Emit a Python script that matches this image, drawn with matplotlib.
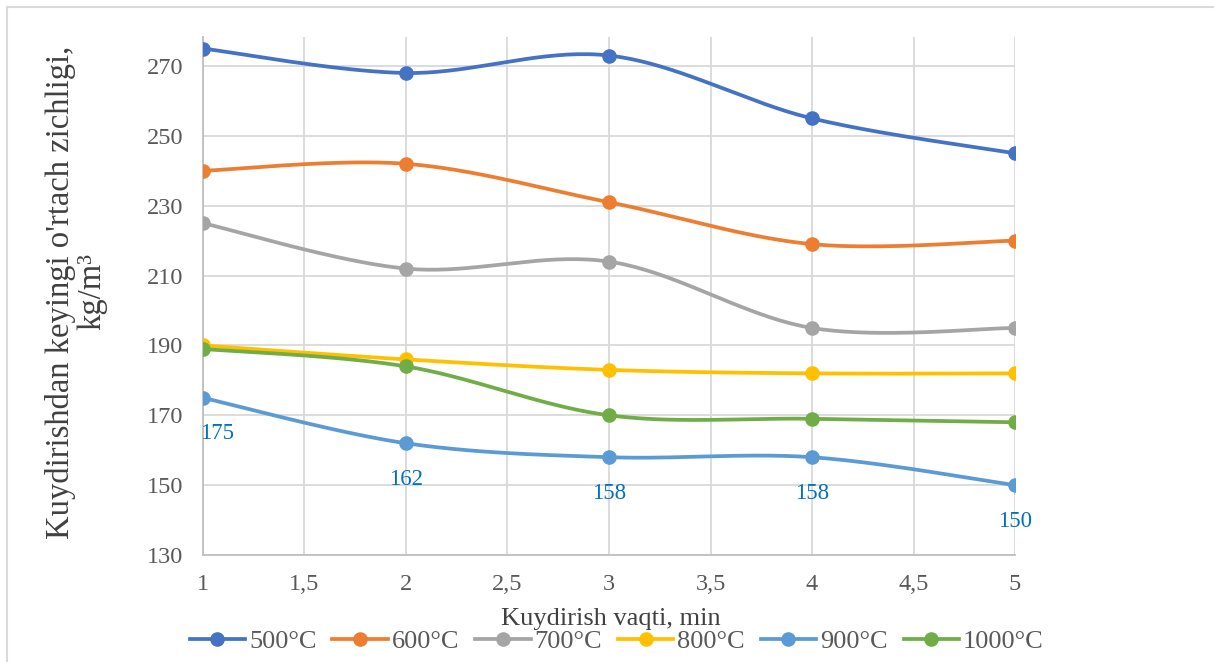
import matplotlib.pyplot as plt
import numpy as np
from matplotlib.patches import Rectangle
from matplotlib.ticker import FuncFormatter, MultipleLocator, FixedLocator

# -----------------------------------
# Data
# -----------------------------------

minutes = [1, 2, 3, 4, 5]

temps = ["500°C", "600°C", "700°C", "800°C", "900°C", "1000°C"]

d500 = [275, 268, 273, 255, 245]
d600 = [240, 242, 231, 219, 220]
d700 = [225, 212, 214, 195, 195]
d800 = [190, 186, 183, 182, 182]
d900 = [175, 162, 158, 158, 150]
d1000 = [189, 184, 170, 169, 168]

series = [d500, d600, d700, d800, d900, d1000]

colors = ["#4472C4", "#ED7D31", "#A5A5A5", "#FFC000", "#5B9BD5", "#70AD47"]

y_ticks = [130, 150, 170, 190, 210, 230, 250, 270]


# -----------------------------------
# Smoothed line (cubic Bezier through the points)
# -----------------------------------

def smooth(xs, ys, steps=40):
    xs = np.asarray(xs, float)
    ys = np.asarray(ys, float)
    px = np.concatenate([[xs[0]], xs, [xs[-1]]])
    py = np.concatenate([[ys[0]], ys, [ys[-1]]])
    out_x, out_y = [], []
    t = np.linspace(0, 1, steps)
    for i in range(len(xs) - 1):
        p0 = np.array([px[i + 1], py[i + 1]])
        p3 = np.array([px[i + 2], py[i + 2]])
        c1 = p0 + (np.array([px[i + 2], py[i + 2]]) - np.array([px[i], py[i]])) / 6
        c2 = p3 - (np.array([px[i + 3], py[i + 3]]) - np.array([px[i + 1], py[i + 1]])) / 6
        b = ((1 - t) ** 3)[:, None] * p0 + (3 * (1 - t) ** 2 * t)[:, None] * c1 \
            + (3 * (1 - t) * t ** 2)[:, None] * c2 + (t ** 3)[:, None] * p3
        out_x.extend(b[:, 0])
        out_y.extend(b[:, 1])
    return out_x, out_y


# -----------------------------------
# Figure Setup
# -----------------------------------

plt.rcParams["font.family"] = ["Liberation Serif", "DejaVu Serif"]

fig = plt.figure(figsize=(12.14, 6.62), dpi=100)
ax = fig.add_axes([0.1672, 0.1616, 0.6689, 0.7825])

# chart border
fig.patches.append(Rectangle((7 / 1214, -0.1), 1.2, 1 - 7 / 662 + 0.1,
                             transform=fig.transFigure, fill=False,
                             edgecolor="#D9D9D9", linewidth=1.5))

for name, ys, c in zip(temps, series, colors):
    sx, sy = smooth(minutes, ys)
    ax.plot(sx, sy, color=c, linewidth=2.7, solid_capstyle="round", zorder=3)
    ax.plot(minutes, ys, "o", color=c, markersize=9.5, zorder=4)
    ax.plot([], [], "-o", color=c, linewidth=2.7, markersize=9.5, label=name)

# data labels for 900°C
for i, (x, y) in enumerate(zip(minutes, d900)):
    dx = 10 if i == 0 else 0
    ax.annotate(str(y), (x, y), xytext=(dx, -26), textcoords="offset points",
                ha="center", va="center", fontsize=16.5, color="#0070C0", zorder=5)

ax.set_xlim(1, 5)
ax.set_ylim(130, 278.3)
ax.xaxis.set_major_locator(MultipleLocator(0.5))
ax.yaxis.set_major_locator(FixedLocator(y_ticks))
ax.xaxis.set_major_formatter(FuncFormatter(lambda v, p: f"{v:g}".replace(".", ",")))

ax.grid(True, color="#D9D9D9", linewidth=1.3, zorder=0)
ax.set_axisbelow(True)
for s in ["top", "right"]:
    ax.spines[s].set_visible(False)
for s in ["left", "bottom"]:
    ax.spines[s].set_color("#BFBFBF")
    ax.spines[s].set_linewidth(1.3)

ax.tick_params(length=0, pad=14, labelsize=17.5, labelcolor="#595959")

# axis titles
fig.text(611 / 1214, 1 - 619 / 662, "Kuydirish vaqti, min", fontsize=19,
         color="#404040", ha="center", va="center")
fig.text(76 / 1214, 1 - 292 / 662, "Kuydirishdan keyingi o'rtach zichligi,\nkg/m³",
         fontsize=23.5, color="#404040", ha="center", va="center",
         rotation=90, multialignment="center", linespacing=1.05)

fig.legend(loc="center", bbox_to_anchor=(0.508, 1 - 641 / 662), ncol=6,
           frameon=False, fontsize=19, handlelength=2.1, handletextpad=0.15,
           columnspacing=0.6, labelcolor="#595959")

fig.savefig("out.png", dpi=100, facecolor="white")
